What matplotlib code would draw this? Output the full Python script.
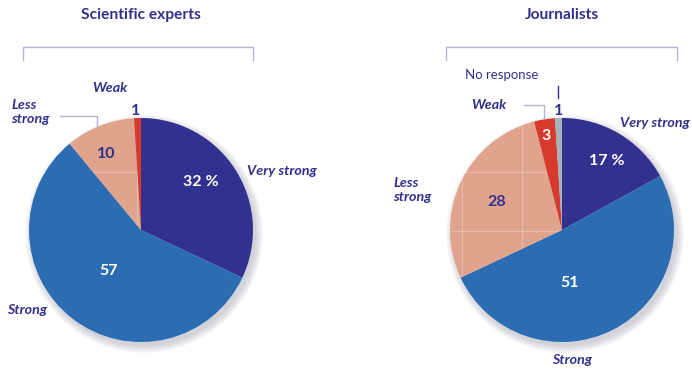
import matplotlib
matplotlib.use("Agg")
import matplotlib.pyplot as plt
from matplotlib.patches import Circle

plt.rcParams['font.family'] = ['Lato', 'DejaVu Sans']

W, H = 692, 369

# answer shares, in percent, clockwise from twelve o'clock
experts_labels = ['Very strong', 'Strong', 'Less strong', 'Weak']
experts_values = [32, 57, 10, 1]
journalists_labels = ['Very strong', 'Strong', 'Less strong', 'Weak', 'No response']
journalists_values = [17, 51, 28, 3, 1]

NAVY = '#32308c'
COLORS = {
    'Very strong': '#33318f',
    'Strong': '#2b6cb3',
    'Less strong': '#e0a48d',
    'Weak': '#d63a2c',
    'No response': '#a9b1b9',
}
BRACKET = '#b5b5d6'
R = 112


def Y(y):
    # pixel row (top down) -> axes y
    return H - y


fig = plt.figure(figsize=(W / 100, H / 100), dpi=100)
ax = fig.add_axes([0, 0, 1, 1])
ax.set_xlim(0, W)
ax.set_ylim(0, H)
ax.set_aspect('equal')
ax.axis('off')


def draw_pie(cx, cy, labels, values, grid_x, grid_y):
    center = (cx, Y(cy))
    # soft drop shadow
    for i in range(10):
        ax.add_patch(Circle((cx + 3, Y(cy) - 4), R + 7 - i * 0.8,
                            color='#404060', alpha=0.025, lw=0, zorder=1))
    wedges, _ = ax.pie(values, colors=[COLORS[l] for l in labels],
                       startangle=90, counterclock=False, center=center,
                       radius=R, wedgeprops=dict(linewidth=0),
                       frame=True)
    for w in wedges:
        w.set_zorder(2)
    # faint texture lines inside the 'Less strong' slice
    less = wedges[labels.index('Less strong')]
    for gx in grid_x:
        ln, = ax.plot([gx, gx], [Y(cy + R), Y(cy - R)], color='white',
                      lw=0.8, alpha=0.25, zorder=3)
        ln.set_clip_path(less)
    for gy in grid_y:
        ln, = ax.plot([cx - R, cx + R], [Y(gy), Y(gy)], color='white',
                      lw=0.8, alpha=0.25, zorder=3)
        ln.set_clip_path(less)
    return dict(zip(labels, values))


def bracket(x0, x1, y0=47, y1=60):
    ax.plot([x0, x0, x1, x1], [Y(y1), Y(y0), Y(y0), Y(y1)],
            color=BRACKET, lw=1, zorder=4)


def cat(x, y, s, ha='center'):
    ax.text(x, Y(y), s, ha=ha, va='center', fontsize=10.3, color=NAVY,
            fontweight='bold', style='italic', linespacing=1.15, zorder=5)


def num(x, y, s, color='white'):
    ax.text(x, Y(y), s, ha='center', va='center', fontsize=11.5,
            color=color, fontweight='bold', zorder=5)


# Scientific experts
ex = draw_pie(141, 230, experts_labels, experts_values, [137], [172])
ax.text(141, Y(15), 'Scientific experts', ha='center', va='center',
        fontsize=11.2, fontweight='bold', color=NAVY)
bracket(23, 253)
num(201, 182, f"{ex['Very strong']} %")
num(109, 271, f"{ex['Strong']}")
num(106, 154, f"{ex['Less strong']}", NAVY)
num(136, 111, f"{ex['Weak']}", NAVY)
cat(282, 171, 'Very strong')
cat(27, 310, 'Strong')
cat(11, 112, 'Less\nstrong', ha='left')
cat(110, 88, 'Weak')
ax.plot([60, 97, 97], [Y(116), Y(116), Y(127)], color=BRACKET, lw=1, zorder=4)

# Journalists
jo = draw_pie(562, 230, journalists_labels, journalists_values,
              [462, 522], [172, 231])
ax.text(562, Y(15), 'Journalists', ha='center', va='center',
        fontsize=11.2, fontweight='bold', color=NAVY)
bracket(446, 677)
num(607, 161, f"{jo['Very strong']} %")
num(570, 283, f"{jo['Strong']}")
num(497, 202, f"{jo['Less strong']}", NAVY)
num(546, 136, f"{jo['Weak']}")
num(559, 111, f"{jo['No response']}", NAVY)
cat(655, 123, 'Very strong')
cat(572, 360, 'Strong')
cat(393, 190, 'Less\nstrong', ha='left')
cat(489, 105, 'Weak')
ax.text(502, Y(75), 'No response', ha='center', va='center', fontsize=9.5,
        color=NAVY, zorder=5)
ax.plot([558, 558], [Y(86), Y(98)], color=NAVY, lw=1, zorder=4)
ax.plot([524, 544, 544], [Y(105), Y(105), Y(118)], color=BRACKET, lw=1,
        zorder=4)

ax.set_xlim(0, W)
ax.set_ylim(0, H)
ax.axis('off')

fig.savefig('out.png', dpi=100)
